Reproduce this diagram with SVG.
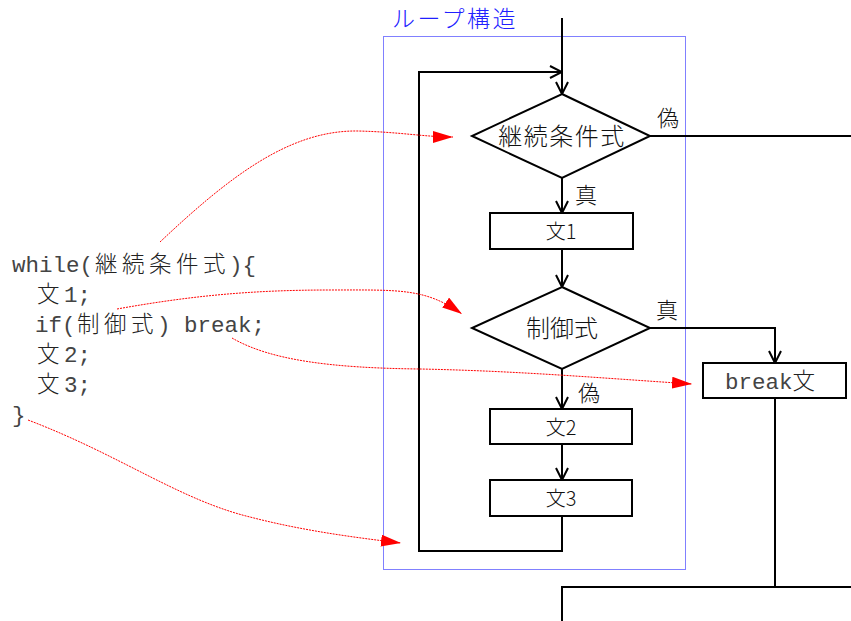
<svg xmlns="http://www.w3.org/2000/svg" width="851" height="621" viewBox="0 0 851 621">
<style>
.ln{fill:none;stroke:#000;stroke-width:2}
.box{fill:#fff;stroke:#000;stroke-width:2}
.red{fill:none;stroke:#ff0000;stroke-width:1;stroke-dasharray:2 1}
.jp{font-family:"Noto Sans CJK JP","Noto Sans",sans-serif;font-weight:300;fill:#111}
.code{font-family:"Liberation Mono","Noto Sans CJK JP",monospace;font-size:22.5px;fill:#444}
.cj{font-family:"Noto Sans CJK JP",sans-serif;font-weight:300;font-size:22.5px;letter-spacing:4.5px;fill:#222}
.lbl{font-family:"Noto Sans CJK JP",sans-serif;font-weight:300;font-size:22px;fill:#111}
</style>
<defs>
<marker id="open" viewBox="0 0 14 14" refX="13" refY="7" markerWidth="14" markerHeight="14" markerUnits="userSpaceOnUse" orient="auto">
<path d="M1,1 L13,7 L1,13" fill="none" stroke="#000" stroke-width="2"/>
</marker>
<marker id="redtri" viewBox="0 0 20 12" refX="20" refY="6" markerWidth="20" markerHeight="12" markerUnits="userSpaceOnUse" orient="auto">
<path d="M0,0 L20,6 L0,12 z" fill="#ff0000"/>
</marker>
</defs>
<rect width="851" height="621" fill="#fff"/>

<g id="loop-frame">
<rect x="383.5" y="36.5" width="302" height="533" fill="none" stroke="#0000ff" stroke-width="1" stroke-dasharray="1 1"/>
<text x="392" y="27" font-family="Noto Sans CJK JP,sans-serif" font-weight="300" font-size="23" letter-spacing="2.5" fill="#2020ff">ループ構造</text>
</g>

<g id="connectors">
<path class="ln" d="M562,18 V94" marker-end="url(#open)"/>
<path class="ln" d="M562,516 V551 H419 V72 H562" marker-end="url(#open)"/>
<path class="ln" d="M562,178 V213" marker-end="url(#open)"/>
<path class="ln" d="M562,249 V287" marker-end="url(#open)"/>
<path class="ln" d="M562,369 V409" marker-end="url(#open)"/>
<path class="ln" d="M562,444 V480" marker-end="url(#open)"/>
<path class="ln" d="M650,136 H851"/>
<path class="ln" d="M650,328 H775 V363" marker-end="url(#open)"/>
<path class="ln" d="M775,398 V587"/>
<path class="ln" d="M851,587 H562 V621"/>
<text class="lbl" x="657" y="126">偽</text>
<text class="lbl" x="575" y="203">真</text>
<text class="lbl" x="656" y="318">真</text>
<text class="lbl" x="578" y="401">偽</text>
</g>

<g id="cond1">
<polygon class="box" points="562,94 650,136 562,178 472,136"/>
<text class="jp" x="562" y="145" font-size="24" letter-spacing="1.5" text-anchor="middle">継続条件式</text>
</g>
<g id="stmt1">
<rect class="box" x="490" y="213" width="143" height="36"/>
<text class="jp" x="561" y="239" font-size="20" text-anchor="middle">文1</text>
</g>
<g id="cond2">
<polygon class="box" points="562,287 650,328 562,369 472,328"/>
<text class="jp" x="562" y="337" font-size="24" text-anchor="middle">制御式</text>
</g>
<g id="stmt2">
<rect class="box" x="490" y="409" width="142" height="35"/>
<text class="jp" x="561" y="435" font-size="20" text-anchor="middle">文2</text>
</g>
<g id="stmt3">
<rect class="box" x="490" y="480" width="142" height="36"/>
<text class="jp" x="561" y="506" font-size="20" text-anchor="middle">文3</text>
</g>
<g id="break">
<rect class="box" x="703" y="363" width="143" height="35"/>
<text class="code" y="389"><tspan x="725">break</tspan><tspan class="cj" x="792.5">文</tspan></text>
</g>

<g id="code">
<text class="code" y="272"><tspan x="12">while(</tspan><tspan class="cj" x="95">継続条件式</tspan><tspan x="229">){</tspan></text>
<text class="code" y="302"><tspan class="cj" x="37">文</tspan><tspan x="64">1;</tspan></text>
<text class="code" y="332"><tspan x="35">if(</tspan><tspan class="cj" x="77">制御式</tspan><tspan x="157">) break;</tspan></text>
<text class="code" y="362"><tspan class="cj" x="37">文</tspan><tspan x="64">2;</tspan></text>
<text class="code" y="392"><tspan class="cj" x="37">文</tspan><tspan x="64">3;</tspan></text>
<text class="code" y="422"><tspan x="12">}</tspan></text>
</g>

<g id="mapping">
<path class="red" d="M160,242 C230,176 290,130 358,131 C400,132 425,137 453,137" marker-end="url(#redtri)"/>
<path class="red" d="M117,309 C190,296 250,290 330,290 C400,290 425,288 462,314" marker-end="url(#redtri)"/>
<path class="red" d="M232,338 C270,360 330,368 420,369 C520,371 600,378 692,384" marker-end="url(#redtri)"/>
<path class="red" d="M28,420 C120,455 180,500 250,517 C300,530 350,537 401,543" marker-end="url(#redtri)"/>
</g>
</svg>
